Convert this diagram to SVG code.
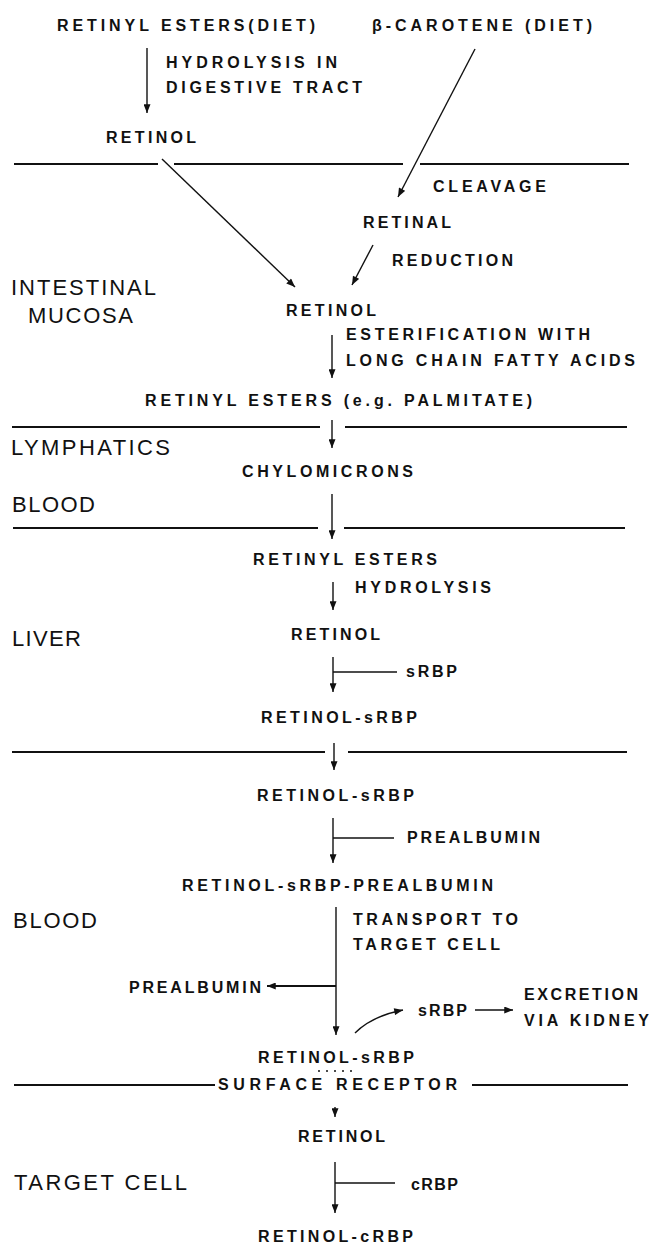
<svg xmlns="http://www.w3.org/2000/svg" width="653" height="1253" viewBox="0 0 653 1253">
<defs>
<style>
.t{font-family:"Liberation Sans",Arial,sans-serif;font-size:16px;font-weight:bold;fill:#111}
.r{font-family:"Liberation Sans",Arial,sans-serif;font-size:22px;fill:#111}
.div{stroke:#111;stroke-width:1.8;fill:none}
.c{stroke:#111;stroke-width:1.4;fill:none}
.ca{stroke:#111;stroke-width:1.4;fill:none;marker-end:url(#ah)}
</style>
<marker id="ah" viewBox="0 0 10 8" refX="10" refY="4" markerWidth="11" markerHeight="7" orient="auto" markerUnits="userSpaceOnUse">
<path d="M0,0 L10,4 L0,8 z" fill="#111"/>
</marker>
</defs>
<rect width="653" height="1253" fill="#fff"/>

<g id="dividers">
<path class="div" d="M14,164 H158 M174,164 H403 M420,164 H629"/>
<path class="div" d="M12,427 H320 M345,427 H627"/>
<path class="div" d="M13,528 H318 M344,528 H625"/>
<path class="div" d="M12,752 H325 M348,752 H627"/>
<path class="div" d="M14,1085 H215 M472,1085 H628"/>
</g>

<g id="regions">
<text id="r-intestinal" class="r" x="11" y="295" textLength="145" lengthAdjust="spacing">INTESTINAL</text>
<text id="r-mucosa" class="r" x="28" y="323" textLength="105" lengthAdjust="spacing">MUCOSA</text>
<text id="r-lymphatics" class="r" x="11" y="455" textLength="159" lengthAdjust="spacing">LYMPHATICS</text>
<text id="r-blood1" class="r" x="12" y="512" textLength="83" lengthAdjust="spacing">BLOOD</text>
<text id="r-liver" class="r" x="12" y="646" textLength="69" lengthAdjust="spacing">LIVER</text>
<text id="r-blood2" class="r" x="13" y="928" textLength="84" lengthAdjust="spacing">BLOOD</text>
<text id="r-target" class="r" x="14" y="1190" textLength="173" lengthAdjust="spacing">TARGET CELL</text>
</g>

<g id="n-retinyl-diet"><text class="t" x="57" y="31" textLength="258" lengthAdjust="spacing">RETINYL ESTERS(DIET)</text></g>
<g id="n-carotene"><text class="t" x="372" y="31" textLength="220" lengthAdjust="spacing">β-CAROTENE (DIET)</text></g>
<g id="l-hydrolysis1">
<text class="t" x="166" y="68" textLength="171" lengthAdjust="spacing">HYDROLYSIS IN</text>
<text class="t" x="166" y="93" textLength="196" lengthAdjust="spacing">DIGESTIVE TRACT</text>
</g>
<g id="n-retinol1"><text class="t" x="106" y="143" textLength="90" lengthAdjust="spacing">RETINOL</text></g>
<g id="l-cleavage"><text class="t" x="433" y="192" textLength="113" lengthAdjust="spacing">CLEAVAGE</text></g>
<g id="n-retinal"><text class="t" x="363" y="228" textLength="88" lengthAdjust="spacing">RETINAL</text></g>
<g id="l-reduction"><text class="t" x="392" y="266" textLength="121" lengthAdjust="spacing">REDUCTION</text></g>
<g id="n-retinol2"><text class="t" x="286" y="316" textLength="90" lengthAdjust="spacing">RETINOL</text></g>
<g id="l-esterification">
<text class="t" x="346" y="340" textLength="244" lengthAdjust="spacing">ESTERIFICATION WITH</text>
<text class="t" x="346" y="366" textLength="289" lengthAdjust="spacing">LONG CHAIN FATTY ACIDS</text>
</g>
<g id="n-retinyl-palm"><text class="t" x="145" y="406" textLength="387" lengthAdjust="spacing">RETINYL ESTERS (e.g. PALMITATE)</text></g>
<g id="n-chylo"><text class="t" x="242" y="477" textLength="171" lengthAdjust="spacing">CHYLOMICRONS</text></g>
<g id="n-retinyl-liver"><text class="t" x="253" y="565" textLength="184" lengthAdjust="spacing">RETINYL ESTERS</text></g>
<g id="l-hydrolysis2"><text class="t" x="355" y="593" textLength="136" lengthAdjust="spacing">HYDROLYSIS</text></g>
<g id="n-retinol3"><text class="t" x="291" y="640" textLength="89" lengthAdjust="spacing">RETINOL</text></g>
<g id="n-srbp1"><text class="t" x="406" y="677" textLength="51" lengthAdjust="spacing">sRBP</text></g>
<g id="n-rs1"><text class="t" x="261" y="723" textLength="156" lengthAdjust="spacing">RETINOL-sRBP</text></g>
<g id="n-rs2"><text class="t" x="257" y="801" textLength="157" lengthAdjust="spacing">RETINOL-sRBP</text></g>
<g id="n-preal1"><text class="t" x="407" y="843" textLength="133" lengthAdjust="spacing">PREALBUMIN</text></g>
<g id="n-rsp"><text class="t" x="182" y="891" textLength="311" lengthAdjust="spacing">RETINOL-sRBP-PREALBUMIN</text></g>
<g id="l-transport">
<text class="t" x="353" y="925" textLength="165" lengthAdjust="spacing">TRANSPORT TO</text>
<text class="t" x="353" y="950" textLength="147" lengthAdjust="spacing">TARGET CELL</text>
</g>
<g id="n-preal2"><text class="t" x="129" y="993" textLength="132" lengthAdjust="spacing">PREALBUMIN</text></g>
<g id="n-excretion">
<text class="t" x="524" y="1000" textLength="114" lengthAdjust="spacing">EXCRETION</text>
<text class="t" x="524" y="1026" textLength="125" lengthAdjust="spacing">VIA KIDNEY</text>
</g>
<g id="n-srbp2"><text class="t" x="418" y="1016" textLength="49" lengthAdjust="spacing">sRBP</text></g>
<g id="n-rs3">
<text class="t" x="258" y="1063" textLength="156" lengthAdjust="spacing">RETINOL-sRBP</text>
<g fill="#111"><circle cx="319" cy="1071" r="1"/><circle cx="327" cy="1071" r="1"/><circle cx="335" cy="1071" r="1"/><circle cx="343" cy="1071" r="1"/><circle cx="351" cy="1071" r="1"/></g>
</g>
<g id="n-receptor"><text class="t" x="218" y="1090" textLength="239" lengthAdjust="spacing">SURFACE RECEPTOR</text></g>
<g id="n-retinol4"><text class="t" x="298" y="1142" textLength="87" lengthAdjust="spacing">RETINOL</text></g>
<g id="n-crbp"><text class="t" x="411" y="1190" textLength="47" lengthAdjust="spacing">cRBP</text></g>
<g id="n-rc"><text class="t" x="258" y="1242" textLength="155" lengthAdjust="spacing">RETINOL-cRBP</text></g>

<g id="connectors">
<path class="ca" d="M147,48 V113"/>
<path class="ca" d="M162,159 L295,287"/>
<path class="ca" d="M475,49 L398,197"/>
<path class="ca" d="M373,245 L352,285"/>
<path class="ca" d="M332,335 V378"/>
<path class="ca" d="M332,420 V448"/>
<path class="ca" d="M332,494 V539"/>
<path class="ca" d="M333,582 V610"/>
<path class="ca" d="M333,657 V692"/>
<path class="c" d="M397,672 H333"/>
<path class="ca" d="M334,743 V770"/>
<path class="ca" d="M333,818 V863"/>
<path class="c" d="M394,838 H333"/>
<path class="ca" d="M336,907 V1035"/>
<path class="ca" style="stroke-width:2" d="M336,986 H267"/>
<path class="ca" d="M355,1033 Q372,1016 403,1010"/>
<path class="ca" d="M475,1010 H513"/>
<path class="ca" d="M335,1107 V1117"/>
<path class="ca" d="M335,1162 V1213"/>
<path class="c" d="M395,1183 H335"/>
</g>
</svg>
